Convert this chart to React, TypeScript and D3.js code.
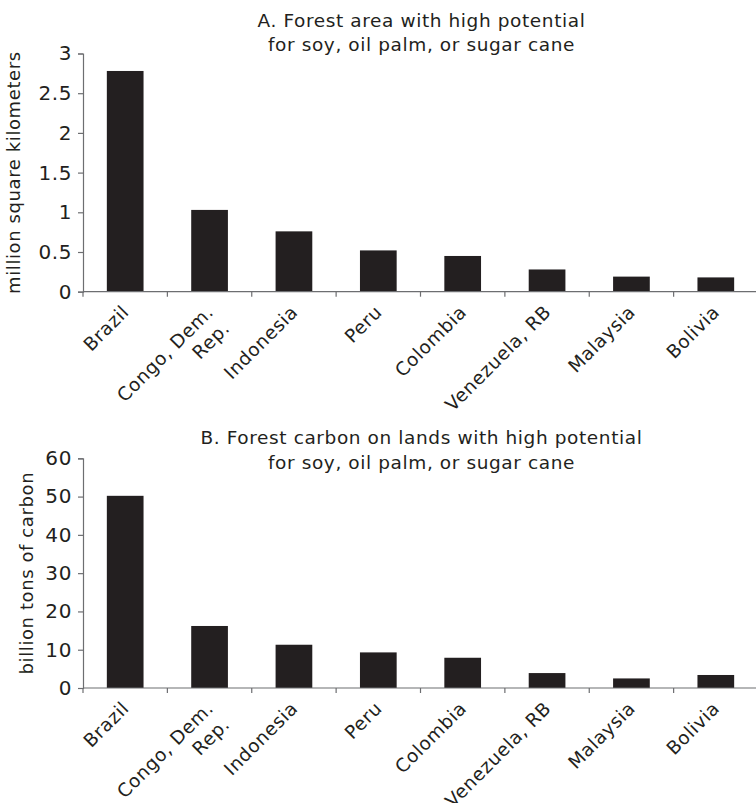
import React, { useEffect, useRef } from 'react';
import * as d3 from 'd3';

const countries = [
  "Brazil",
  "Congo, Dem. Rep.",
  "Indonesia",
  "Peru",
  "Colombia",
  "Venezuela, RB",
  "Malaysia",
  "Bolivia",
];

// million square kilometers
const areaValues = [2.78, 1.03, 0.76, 0.52, 0.45, 0.28, 0.19, 0.18];
// billion tons of carbon
const carbonValues = [50.2, 16.2, 11.3, 9.3, 7.9, 3.9, 2.5, 3.4];

const areaTicks = [0, 0.5, 1, 1.5, 2, 2.5, 3];
const carbonTicks = [0, 10, 20, 30, 40, 50, 60];

// labels that wrap onto two lines
const labelLines: Record<string, string[]> = {
  "Congo, Dem. Rep.": ["Congo, Dem.", "Rep."],
};

const FONT = "'DejaVu Sans', sans-serif";
const BAR = "#231f20";
const AXIS = "#6d6e71";

interface PanelSpec {
  values: number[];
  ticks: number[];
  max: number;
  top: number;
  bottom: number;
  title: string[];
  titleY: number[];
  yLabel: string;
  yLabelX: number;
}

const App: React.FC = () => {
  const svgRef = useRef<SVGSVGElement>(null);

  useEffect(() => {
    if (!svgRef.current) return;
    const svg = d3.select(svgRef.current);
    svg.selectAll("*").remove();

    const left = 83;
    const right = 758;

    const xScale = d3
      .scaleBand<string>()
      .domain(countries)
      .range([left, right])
      .paddingInner(0.565)
      .paddingOuter(0.2825);

    const bandStep = (right - left) / countries.length;
    const titleX = 421.5;

    const panels: PanelSpec[] = [
      {
        values: areaValues,
        ticks: areaTicks,
        max: 3,
        top: 53.5,
        bottom: 291.7,
        title: ["A. Forest area with high potential", "for soy, oil palm, or sugar cane"],
        titleY: [27, 51],
        yLabel: "million square kilometers",
        yLabelX: 20,
      },
      {
        values: carbonValues,
        ticks: carbonTicks,
        max: 60,
        top: 458.3,
        bottom: 688,
        title: ["B. Forest carbon on lands with high potential", "for soy, oil palm, or sugar cane"],
        titleY: [444, 469],
        yLabel: "billion tons of carbon",
        yLabelX: 33,
      },
    ];

    panels.forEach((p) => {
      const g = svg.append("g");

      const yScale = d3.scaleLinear().domain([0, p.max]).range([p.bottom, p.top]);

      // Bars
      g.selectAll("rect.bar")
        .data(p.values)
        .enter()
        .append("rect")
        .attr("class", "bar")
        .attr("x", (_, i) => xScale(countries[i]) as number)
        .attr("y", (d) => yScale(d))
        .attr("width", xScale.bandwidth())
        .attr("height", (d) => p.bottom - yScale(d))
        .attr("fill", BAR);

      // Y axis
      const yAxis = g
        .append("g")
        .attr("transform", `translate(${left},0)`)
        .call(
          d3
            .axisLeft(yScale)
            .tickValues(p.ticks)
            .tickSize(5)
            .tickPadding(6)
            .tickFormat((d) => d3.format("")(d as number))
        );
      yAxis.select(".domain").attr("stroke", AXIS).attr("stroke-width", 1.2);
      yAxis.selectAll(".tick line").attr("stroke", AXIS).attr("stroke-width", 1.2);
      yAxis
        .selectAll(".tick text")
        .attr("fill", BAR)
        .style("font-family", FONT)
        .style("font-size", "20px")
        .style("letter-spacing", "0.6px");

      // X axis line with ticks at band edges
      g.append("line")
        .attr("x1", left)
        .attr("x2", right)
        .attr("y1", p.bottom)
        .attr("y2", p.bottom)
        .attr("stroke", AXIS)
        .attr("stroke-width", 1.2);

      d3.range(countries.length + 1).forEach((i) => {
        g.append("line")
          .attr("x1", left + i * bandStep)
          .attr("x2", left + i * bandStep)
          .attr("y1", p.bottom)
          .attr("y2", p.bottom + 5)
          .attr("stroke", AXIS)
          .attr("stroke-width", 1.2);
      });

      // Category labels, rotated; extra lines go below the first
      countries.forEach((c) => {
        const cx = (xScale(c) as number) + xScale.bandwidth() / 2;
        const lines = labelLines[c] || [c];
        const t = g
          .append("text")
          .attr("transform", `translate(${cx + 5},${p.bottom + 21.5}) rotate(-45)`)
          .style("text-anchor", "end")
          .style("font-family", FONT)
          .style("font-size", "18.5px")
          .style("letter-spacing", "0.6px")
          .attr("fill", BAR);
        lines.forEach((line, li) => {
          t.append("tspan")
            .attr("x", 0)
            .attr("y", li * 23)
            .text(line);
        });
      });

      // Title
      p.title.forEach((line, li) => {
        g.append("text")
          .attr("x", titleX)
          .attr("y", p.titleY[li])
          .style("text-anchor", "middle")
          .style("font-family", FONT)
          .style("font-size", "18.5px")
          .style("letter-spacing", "0.6px")
          .attr("fill", BAR)
          .text(line);
      });

      // Y axis label
      g.append("text")
        .attr("transform", `translate(${p.yLabelX},${(p.top + p.bottom) / 2}) rotate(-90)`)
        .style("text-anchor", "middle")
        .style("font-family", FONT)
        .style("font-size", "18px")
        .style("letter-spacing", "0.6px")
        .attr("fill", BAR)
        .text(p.yLabel);
    });
  }, []);

  return (
    <svg
      ref={svgRef}
      width={756}
      height={803}
      style={{ position: "absolute", left: 0, top: 0, background: "#fff" }}
    ></svg>
  );
};

export default App;
